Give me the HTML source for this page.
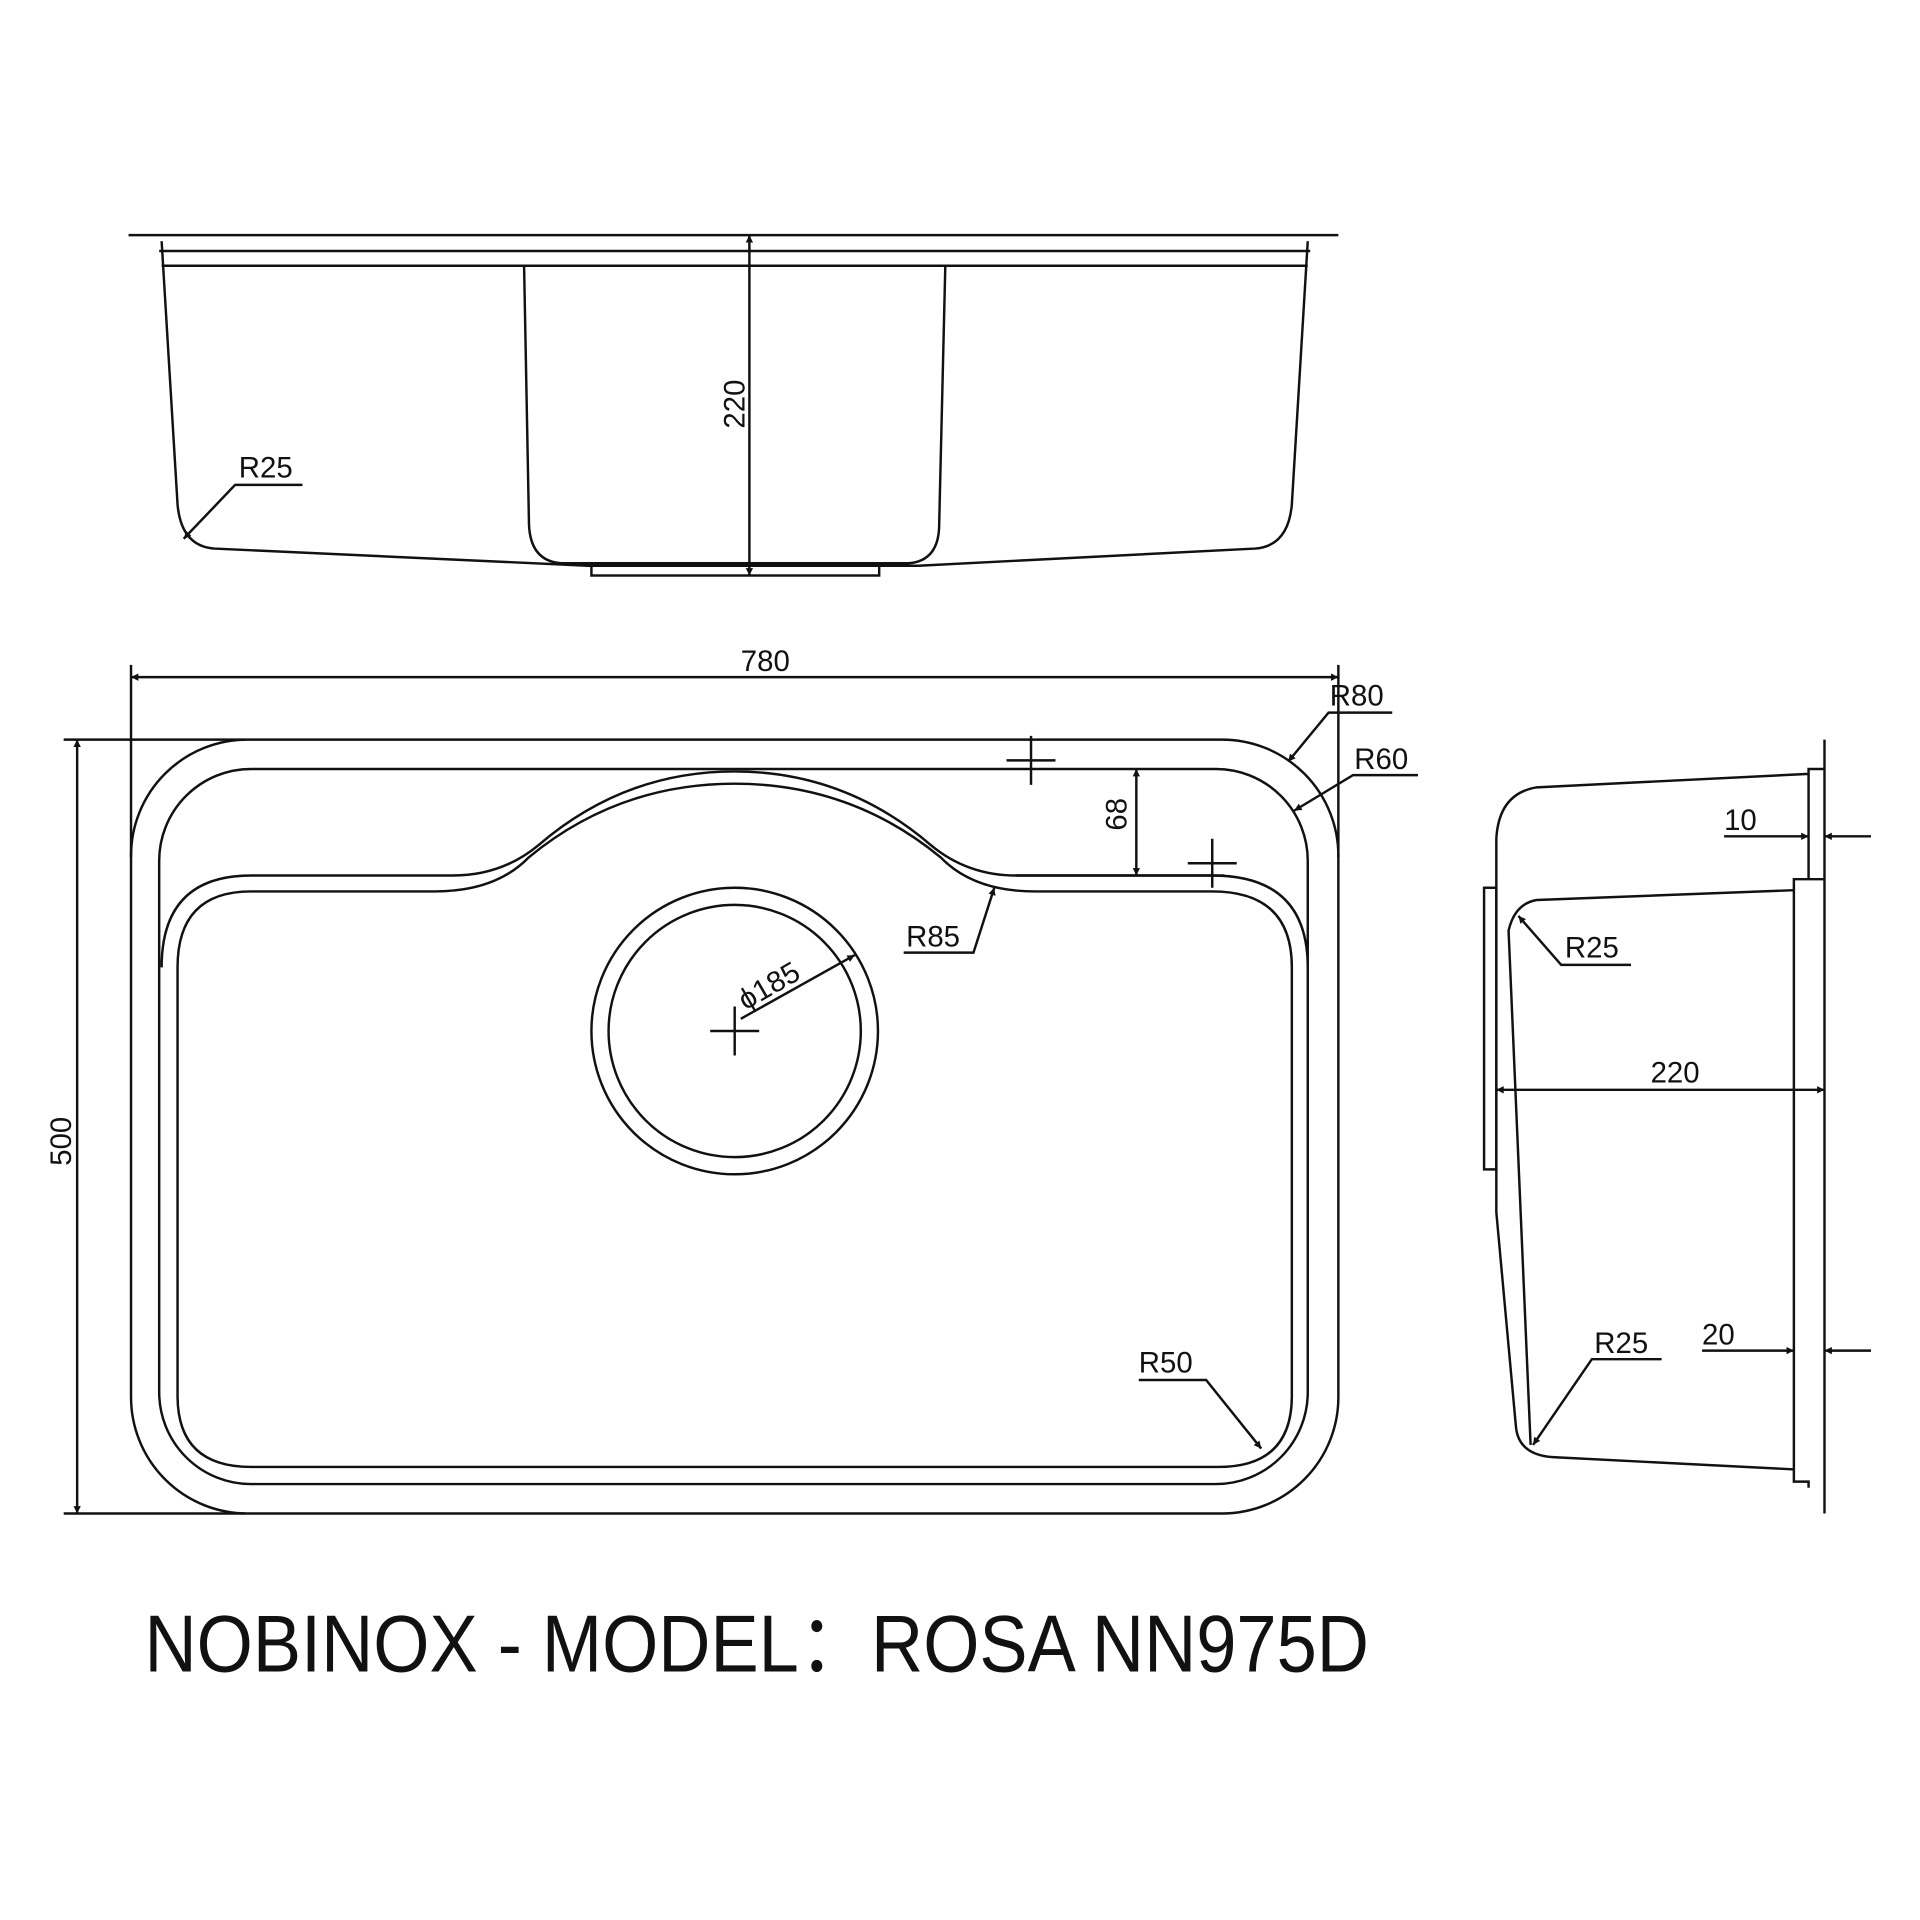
<!DOCTYPE html>
<html><head><meta charset="utf-8"><style>html,body{margin:0;padding:0;background:#fff}svg{display:block}</style></head>
<body>
<svg width="1920" height="1920" viewBox="0 0 1568 1568" xmlns="http://www.w3.org/2000/svg">
<defs>
<marker id="a" viewBox="0 0 10 10" refX="10" refY="5" markerWidth="14" markerHeight="6" orient="auto-start-reverse" markerUnits="userSpaceOnUse"><path d="M0,0 L10,5 L0,10 z" fill="#111"/></marker>
</defs>
<g fill="none" stroke="#111" stroke-width="2">
<!-- TOP VIEW -->
<line x1="105" y1="192" x2="1093" y2="192"/>
<line x1="130" y1="205" x2="1070" y2="205"/>
<line x1="132" y1="217" x2="1068" y2="217"/>
<path d="M132,197 L145,412 Q148,446 175,448 L480,462 L750,462 L1025,448 Q1052,446 1055,412 L1068,197"/>
<path d="M428,217 L432,428 Q433,458 458,460 L742,460 Q767,458 767,428 L772,217"/>
<rect x="483" y="462" width="235" height="8"/>
<line x1="612" y1="192" x2="612" y2="470" marker-start="url(#a)" marker-end="url(#a)"/>
<polyline points="150,440 192,396 247,396" marker-start="url(#a)"/>
<!-- PLAN VIEW -->
<rect x="107" y="604" width="986" height="632" rx="95"/>
<rect x="130" y="628" width="938" height="584" rx="75"/>
<path d="M132,790 Q132,715 205,715 L370,715 Q410,715 440,690 Q510,630 600,630 Q690,630 760,690 Q790,715 830,715 L990,715 Q1068,715 1068,790"/>
<path d="M145,790 Q145,728 205,728 L355,728 Q405,728 432,700 Q505,640 600,640 Q695,640 768,700 Q795,728 845,728 L990,728 Q1055,728 1055,790 L1055,1140 Q1055,1198 995,1198 L205,1198 Q145,1198 145,1140 Z"/>
<circle cx="600" cy="842" r="117"/>
<circle cx="600" cy="842" r="103"/>
<path d="M822,621 H862 M842,601 V641 M970,705 H1010 M990,685 V725 M580,842 H620 M600,822 V862"/>
<line x1="928" y1="628" x2="928" y2="715" marker-start="url(#a)" marker-end="url(#a)"/>
<line x1="830" y1="715" x2="1000" y2="715"/>
<polyline points="812,725 795,778 738,778" marker-start="url(#a)"/>
<line x1="605" y1="832" x2="698" y2="780" marker-end="url(#a)"/>
<polyline points="930,1127 985,1127 1030,1183" marker-end="url(#a)"/>
<polyline points="1137,582 1085,582 1052,622" marker-end="url(#a)"/>
<polyline points="1158,633 1105,633 1057,662" marker-end="url(#a)"/>
<line x1="107" y1="553" x2="1093" y2="553" marker-start="url(#a)" marker-end="url(#a)"/>
<line x1="107" y1="543" x2="107" y2="700"/>
<line x1="1093" y1="543" x2="1093" y2="700"/>
<line x1="63" y1="604" x2="63" y2="1236" marker-start="url(#a)" marker-end="url(#a)"/>
<line x1="52" y1="604" x2="200" y2="604"/>
<line x1="52" y1="1236" x2="200" y2="1236"/>
<!-- SIDE VIEW -->
<line x1="1490" y1="604" x2="1490" y2="1236"/>
<path d="M1477,632 L1255,643 Q1224,648 1222,685 L1222,990 L1238,1165 Q1240,1188 1268,1190 L1465,1200 L1465,1210 L1477,1210 L1477,1215 M1477,632 L1477,628 L1490,628 M1490,718 L1477,718 L1477,632 M1477,718 L1465,718 L1465,1200"/>
<path d="M1465,727 L1255,735 Q1237,738 1232,760 L1250,1180"/>
<rect x="1212" y="725" width="10" height="230"/>
<line x1="1222" y1="890" x2="1490" y2="890" marker-start="url(#a)" marker-end="url(#a)"/>
<line x1="1408" y1="683" x2="1477" y2="683" marker-end="url(#a)"/>
<line x1="1528" y1="683" x2="1490" y2="683" marker-end="url(#a)"/>
<line x1="1390" y1="1103" x2="1465" y2="1103" marker-end="url(#a)"/>
<line x1="1528" y1="1103" x2="1490" y2="1103" marker-end="url(#a)"/>
<polyline points="1332,788 1275,788 1240,748" marker-end="url(#a)"/>
<polyline points="1357,1110 1300,1110 1252,1180" marker-end="url(#a)"/>
</g>
<g font-family="'Liberation Sans', sans-serif" font-size="24" fill="#111">
<text x="195" y="390">R25</text>
<text x="608" y="330" transform="rotate(-90 608 330)" text-anchor="middle">220</text>
<text x="625" y="548" text-anchor="middle">780</text>
<text x="58" y="932" transform="rotate(-90 58 932)" text-anchor="middle">500</text>
<text x="920" y="665" transform="rotate(-90 920 665)" text-anchor="middle">68</text>
<text x="740" y="773">R85</text>
<text x="632" y="812" transform="rotate(-30 632 812)" text-anchor="middle">ϕ185</text>
<text x="930" y="1121">R50</text>
<text x="1086" y="576">R80</text>
<text x="1106" y="628">R60</text>
<text x="1368" y="884" text-anchor="middle">220</text>
<text x="1408" y="678">10</text>
<text x="1390" y="1098">20</text>
<text x="1278" y="782">R25</text>
<text x="1302" y="1105">R25</text>
</g>
<text x="118" y="1365" font-family="'Liberation Sans','Noto Sans CJK SC',sans-serif" font-size="66" fill="#111" textLength="1000" lengthAdjust="spacingAndGlyphs">NOBINOX - MODEL：ROSA NN975D</text>
</svg>
</body></html>
